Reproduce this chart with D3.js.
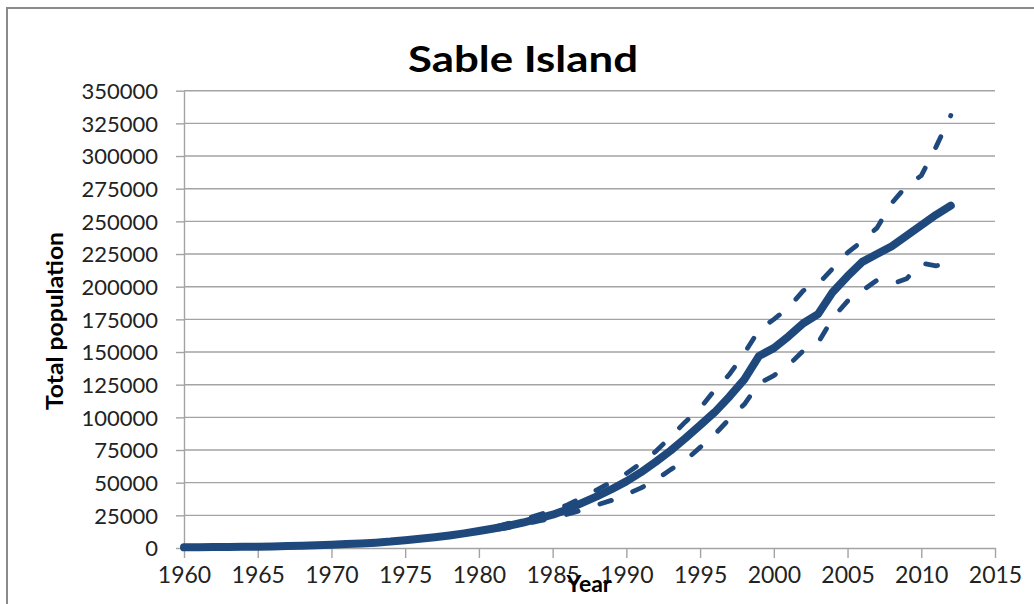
<!DOCTYPE html>
<html>
<head>
<meta charset="utf-8">
<script src="https://cdn.jsdelivr.net/npm/d3@7"></script>
<style>
  html, body { margin: 0; padding: 0; background: #fff; }
  svg { display: block; }
  text { font-family: Lato, "Open Sans", sans-serif; }
</style>
</head>
<body>
<svg id="chart" width="1034" height="604"></svg>
<script>
// ---- data ----
const title = "Sable Island";
const xAxisTitle = "Year";
const yAxisTitle = "Total population";

const years = [1960,1961,1962,1963,1964,1965,1966,1967,1968,1969,
               1970,1971,1972,1973,1974,1975,1976,1977,1978,1979,
               1980,1981,1982,1983,1984,1985,1986,1987,1988,1989,
               1990,1991,1992,1993,1994,1995,1996,1997,1998,1999,
               2000,2001,2002,2003,2004,2005,2006,2007,2008,2009,
               2010,2011,2012];

const mainSeries = [500,600,700,800,900,1000,1200,1500,1800,2100,
                    2500,3000,3500,4100,4900,6000,7000,8200,9600,11200,
                    13000,14900,17000,19500,22500,25500,29500,34500,39500,45000,
                    51000,58000,66000,74500,84000,94000,104000,116000,129000,147000,
                    153000,162000,172000,179000,196000,208000,219000,225000,231000,239000,
                    247000,255000,262000];

const upperSeries = [500,600,700,800,900,1000,1200,1500,1800,2100,
                     2500,3000,3500,4100,4900,6000,7000,8200,9600,11200,
                     13400,15800,18800,21800,25200,28800,33000,38500,44500,50500,
                     57000,65000,74000,85000,96500,107000,121000,133000,149000,167000,
                     175000,184000,197000,202000,214000,226000,235000,245000,264000,277000,
                     285000,307000,331000];

const lowerSeries = [500,600,700,800,900,1000,1200,1500,1800,2100,
                     2500,3000,3500,4100,4900,6000,7000,8200,9600,11200,
                     12400,14000,15600,18000,20500,23000,25800,29000,33000,36500,
                     41000,46000,52000,60000,67000,77000,87000,99000,110000,126000,
                     132000,140000,151000,157000,176000,189000,197000,205000,202000,206000,
                     218000,216000,218000];

const xTicks = [1960,1965,1970,1975,1980,1985,1990,1995,2000,2005,2010,2015];
const yTicks = [0,25000,50000,75000,100000,125000,150000,175000,200000,225000,250000,275000,300000,325000,350000];

// ---- layout ----
const svg = d3.select("#chart");
const plot = { left: 184, right: 995, top: 90.7, bottom: 548 };
const lineColor = "#1f497d";
const gridColor = "#a3a3a3";

const x = d3.scaleLinear().domain([1960, 2015]).range([plot.left, plot.right]);
const y = d3.scaleLinear().domain([0, 350000]).range([plot.bottom, plot.top]);

// outer frame
svg.append("rect")
  .attr("x", 7).attr("y", 8)
  .attr("width", 1100).attr("height", 700)
  .attr("fill", "none")
  .attr("stroke", "#8a8a8a")
  .attr("stroke-width", 2);

// gridlines
svg.append("g").selectAll("line")
  .data(yTicks.filter(d => d > 0))
  .join("line")
  .attr("x1", plot.left).attr("x2", plot.right)
  .attr("y1", d => y(d)).attr("y2", d => y(d))
  .attr("stroke", gridColor).attr("stroke-width", 1.4);

// y axis
const yAxis = svg.append("g")
  .attr("transform", `translate(${plot.left},0)`)
  .call(d3.axisLeft(y).tickValues(yTicks).tickFormat(d3.format("d")).tickSize(8).tickSizeOuter(0).tickPadding(18));
yAxis.select(".domain").attr("stroke", gridColor).attr("stroke-width", 1.4);
yAxis.selectAll(".tick line").attr("stroke", gridColor).attr("stroke-width", 1.4);
yAxis.selectAll(".tick text")
  .attr("font-family", "Lato, 'Open Sans', sans-serif")
  .attr("font-size", 22).attr("fill", "#222")
  .attr("dy", "0.36em");

// x axis
const xAxis = svg.append("g")
  .attr("transform", `translate(0,${plot.bottom})`)
  .call(d3.axisBottom(x).tickValues(xTicks).tickFormat(d3.format("d")).tickSize(10).tickSizeOuter(0).tickPadding(9));
xAxis.select(".domain").attr("stroke", gridColor).attr("stroke-width", 1.4);
xAxis.selectAll(".tick line").attr("stroke", gridColor).attr("stroke-width", 1.4);
xAxis.selectAll(".tick text")
  .attr("font-family", "Lato, 'Open Sans', sans-serif")
  .attr("font-size", 23).attr("fill", "#222");

// lines
const line = d3.line().x(d => x(d[0])).y(d => y(d[1]));
const mk = arr => years.map((yr, i) => [yr, arr[i]]);

[upperSeries, lowerSeries].forEach(s => {
  svg.append("path")
    .datum(mk(s))
    .attr("d", line)
    .attr("fill", "none")
    .attr("stroke", lineColor)
    .attr("stroke-width", 4.8)
    .attr("stroke-linecap", "round")
    .attr("stroke-linejoin", "round")
    .attr("stroke-dasharray", "12 23");
});

svg.append("path")
  .datum(mk(mainSeries))
  .attr("d", line)
  .attr("fill", "none")
  .attr("stroke", lineColor)
  .attr("stroke-width", 8)
  .attr("stroke-linecap", "round")
  .attr("stroke-linejoin", "round");

// title
svg.append("text")
  .attr("x", 523).attr("y", 72)
  .attr("text-anchor", "middle")
  .attr("font-size", 37).attr("font-weight", "bold").attr("fill", "#000")
  .attr("textLength", 230).attr("lengthAdjust", "spacingAndGlyphs")
  .text(title);

// y axis title
svg.append("text")
  .attr("transform", "translate(63,321) rotate(-90)")
  .attr("text-anchor", "middle")
  .attr("font-size", 22).attr("font-weight", "bold").attr("fill", "#000")
  .attr("textLength", 178).attr("lengthAdjust", "spacingAndGlyphs")
  .text(yAxisTitle);

// x axis title (overlaps the 1985 label, as in the reference)
svg.append("text")
  .attr("x", 589).attr("y", 592)
  .attr("text-anchor", "middle")
  .attr("font-size", 23).attr("font-weight", "bold").attr("fill", "#000")
  .text(xAxisTitle);
</script>
</body>
</html>
